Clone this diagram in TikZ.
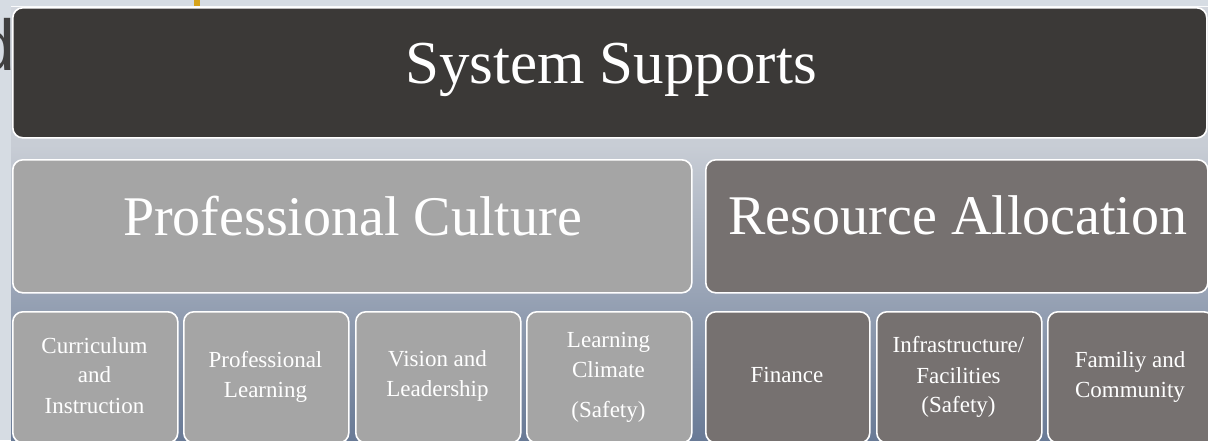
\documentclass[tikz,border=0pt]{standalone}
\usepackage{fontspec}
\setmainfont{Liberation Serif}
\newfontfamily\headsans{Liberation Sans}
\definecolor{stripbg}{RGB}{214,220,227}
\definecolor{bgtop}{RGB}{210,214,221}
\definecolor{bgmid}{RGB}{200,205,213}
\definecolor{bgbot}{RGB}{105,122,150}
\definecolor{topfill}{RGB}{59,57,55}
\definecolor{pcfill}{RGB}{165,165,165}
\definecolor{rafill}{RGB}{118,113,112}
\definecolor{goldbar}{RGB}{214,163,26}
\definecolor{dgray}{RGB}{64,64,64}
\begin{document}
\begin{tikzpicture}[x=1pt,y=-1pt,
  tile/.style={draw=white, line width=1.6pt, rounded corners=10pt, inner sep=0pt, anchor=north west},
  bigtxt/.style={text=white, inner sep=0pt, anchor=base, font=\fontsize{56}{60}\selectfont},
  smtxt/.style={text=white, inner sep=0pt, anchor=base, font=\fontsize{23}{28}\selectfont}]
\useasboundingbox (0,0) rectangle (1208,440);
\begin{scope}
\clip (0,0) rectangle (1208,440);
\fill[stripbg] (0,0) rectangle (1208,440);
\fill[goldbar] (194,0) rectangle (200,6);
\node[anchor=base east, inner sep=0pt, text=dgray, font=\headsans\fontsize{72}{80}\selectfont] (dchar) at (16,70) {d};
\shade[top color=bgtop, bottom color=bgmid] (11,6) rectangle (1208,146);
\shade[top color=bgmid, bottom color=bgbot] (11,145) rectangle (1208,440);
\draw[white!85!stripbg, line width=0.8pt] (11,6) -- (1208,6);
% boxes
\node[tile, fill=topfill, minimum width=1194pt, minimum height=130pt] (sys) at (12,7) {};
\node[tile, fill=pcfill, minimum width=679pt, minimum height=133pt] (pc) at (12,159) {};
\node[tile, fill=rafill, minimum width=502pt, minimum height=133pt] (ra) at (705,159) {};
\node[tile, fill=pcfill, minimum width=165pt, minimum height=131pt] (ci) at (12,311) {};
\node[tile, fill=pcfill, minimum width=165pt, minimum height=131pt] (pl) at (183,311) {};
\node[tile, fill=pcfill, minimum width=165pt, minimum height=131pt] (vl) at (355,311) {};
\node[tile, fill=pcfill, minimum width=165pt, minimum height=131pt] (lc) at (526,311) {};
\node[tile, fill=rafill, minimum width=164pt, minimum height=131pt] (fi) at (705,311) {};
\node[tile, fill=rafill, minimum width=165pt, minimum height=131pt] (inf) at (876,311) {};
\node[tile, fill=rafill, minimum width=166pt, minimum height=131pt] (fc) at (1047,311) {};
% headings
\node[bigtxt, font=\fontsize{61}{66}\selectfont] (sysT) at (611,83) {System Supports};
\node[bigtxt] (pcT) at (352.5,235) {Professional Culture};
\node[bigtxt] (raT) at (958,234) {Resource Allocation};
% small texts
\node[smtxt] (ci1) at (94.5,353) {Curriculum};
\node[smtxt] (ci2) at (94.5,382) {and};
\node[smtxt] (ci3) at (94.5,413) {Instruction};
\node[smtxt] (pl1) at (265.5,367) {Professional};
\node[smtxt] (pl2) at (265.5,397) {Learning};
\node[smtxt] (vl1) at (437.5,366) {Vision and};
\node[smtxt] (vl2) at (437.5,396) {Leadership};
\node[smtxt] (lc1) at (608.5,347) {Learning};
\node[smtxt] (lc2) at (608.5,377) {Climate};
\node[smtxt] (lc3) at (608.5,417) {(Safety)};
\node[smtxt] (fi1) at (787,382) {Finance};
\node[smtxt] (inf1) at (958.5,352) {Infrastructure/};
\node[smtxt] (inf2) at (958.5,383) {Facilities};
\node[smtxt] (inf3) at (958.5,412) {(Safety)};
\node[smtxt] (fc1) at (1130,367) {Familiy and};
\node[smtxt] (fc2) at (1130,397) {Community};
\end{scope}
\end{tikzpicture}
\end{document}
